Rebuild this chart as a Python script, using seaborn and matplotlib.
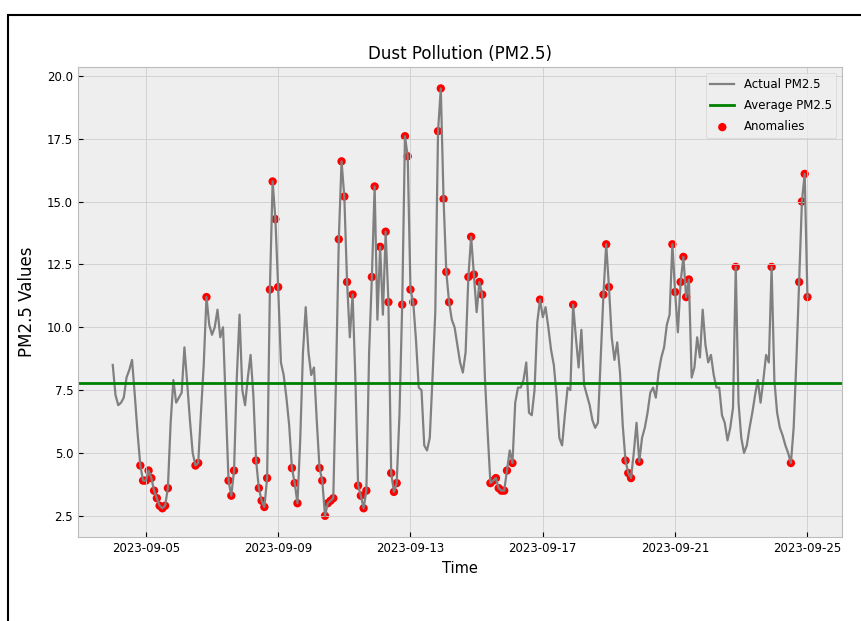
import pandas as pd
import numpy as np
import matplotlib
matplotlib.use("Agg")
import matplotlib.pyplot as plt
import matplotlib.dates as mdates
from matplotlib.patches import Rectangle
import seaborn as sns

# 2-hourly PM2.5 readings, 2023-09-04 00:00 -> 2023-09-25 00:00 (one row per day)
pm25_values = [
    8.5, 7.3, 6.9, 7.0, 7.2, 8.0, 8.3, 8.7, 7.3, 5.8, 4.5, 3.9,
    3.9, 4.3, 4.0, 3.5, 3.2, 2.9, 2.8, 2.9, 3.6, 6.2, 7.9, 7.0,
    7.2, 7.4, 9.2, 7.8, 6.3, 5.0, 4.5, 4.6, 6.6, 8.5, 11.2, 10.1,
    9.7, 10.0, 10.7, 9.6, 10.0, 7.0, 3.9, 3.3, 4.3, 8.0, 10.5, 7.5,
    6.9, 8.0, 8.9, 7.3, 4.7, 3.6, 3.1, 2.85, 4.0, 11.5, 15.8, 14.3,
    11.6, 8.6, 8.1, 7.2, 6.1, 4.4, 3.8, 3.0, 5.5, 9.0, 10.8, 9.0,
    8.1, 8.4, 6.3, 4.4, 3.9, 2.5, 3.0, 3.1, 3.2, 8.0, 13.5, 16.6,
    15.2, 11.8, 9.6, 11.3, 8.0, 3.7, 3.3, 2.8, 3.5, 9.0, 12.0, 15.6,
    10.3, 13.2, 10.5, 13.8, 11.0, 4.2, 3.45, 3.8, 6.5, 10.9, 17.6, 16.8,
    11.5, 11.0, 9.5, 7.6, 7.5, 5.3, 5.1, 5.6, 8.0, 10.6, 17.8, 19.5,
    15.1, 12.2, 11.0, 10.3, 10.0, 9.3, 8.6, 8.2, 9.0, 12.0, 13.6, 12.1,
    10.6, 11.8, 11.3, 8.0, 5.8, 3.8, 3.9, 4.0, 3.6, 3.5, 3.5, 4.3,
    5.1, 4.6, 7.0, 7.6, 7.6, 7.9, 8.6, 6.6, 6.5, 7.5, 10.2, 11.1,
    10.4, 10.8, 10.0, 9.1, 8.5, 7.3, 5.6, 5.3, 6.5, 7.6, 7.5, 10.9,
    9.6, 8.4, 9.9, 7.7, 7.3, 6.9, 6.3, 6.0, 6.2, 8.8, 11.3, 13.3,
    11.6, 9.6, 8.7, 9.4, 8.2, 6.1, 4.7, 4.2, 4.0, 5.0, 6.2, 4.65,
    5.6, 6.0, 6.6, 7.4, 7.6, 7.2, 8.2, 8.8, 9.2, 10.1, 10.5, 13.3,
    11.4, 9.8, 11.8, 12.8, 11.2, 11.9, 8.0, 8.4, 9.6, 8.8, 10.7, 9.3,
    8.6, 8.9, 8.1, 7.6, 7.6, 6.5, 6.2, 5.5, 6.0, 6.8, 12.4, 7.0,
    5.6, 5.0, 5.3, 6.0, 6.6, 7.3, 7.9, 7.0, 7.9, 8.9, 8.6, 12.4,
    7.9, 6.6, 6.0, 5.7, 5.3, 5.0, 4.6, 6.0, 8.7, 11.8, 15.0, 16.1,
    11.2,
]
start_time = "2023-09-04 00:00"
avg_pm25 = 7.8
low_limit = 4.75
high_limit = 10.85

data = pd.DataFrame({
    "Time": pd.date_range(start_time, periods=len(pm25_values), freq="2h"),
    "PM2.5": pm25_values,
})
anomalies = data[(data["PM2.5"] < low_limit) | (data["PM2.5"] > high_limit)]

plt.style.use("bmh")
plt.rcParams["font.family"] = ["DejaVu Sans"]
plt.rcParams["grid.linestyle"] = "-"
plt.rcParams["grid.color"] = "#cdcdcd"
plt.rcParams["grid.linewidth"] = 0.6

fig, ax = plt.subplots(figsize=(8.62, 6.21), dpi=100)
fig.subplots_adjust(left=0.0905, right=0.977, top=0.892, bottom=0.135)

sns.lineplot(data=data, x="Time", y="PM2.5", ax=ax, color="gray",
             linewidth=1.6, label="Actual PM2.5")
ax.axhline(avg_pm25, color="green", linewidth=2, label="Average PM2.5")
sns.scatterplot(data=anomalies, x="Time", y="PM2.5", ax=ax, color="red",
                s=36, edgecolor="none", label="Anomalies")

ax.set_title("Dust Pollution (PM2.5)", fontsize=12)
ax.set_xlabel("Time", fontsize=10.5)
ax.set_ylabel("PM2.5 Values", fontsize=12, labelpad=8)
ax.xaxis.set_major_locator(mdates.DayLocator(bymonthday=[5, 9, 13, 17, 21, 25]))
ax.xaxis.set_major_formatter(mdates.DateFormatter("%Y-%m-%d"))
ax.set_yticks([2.5, 5.0, 7.5, 10.0, 12.5, 15.0, 17.5, 20.0])
ax.tick_params(labelsize=8.5)
ax.legend(loc="upper right", fontsize=8.5, labelspacing=0.7)

# screenshot frame around the picture
fig.add_artist(Rectangle((8 / 862, -0.1), 1.2, (621 - 15) / 621 + 0.1,
                         transform=fig.transFigure, fill=False,
                         edgecolor="black", linewidth=1.5))

fig.savefig("out.png", dpi=100)
